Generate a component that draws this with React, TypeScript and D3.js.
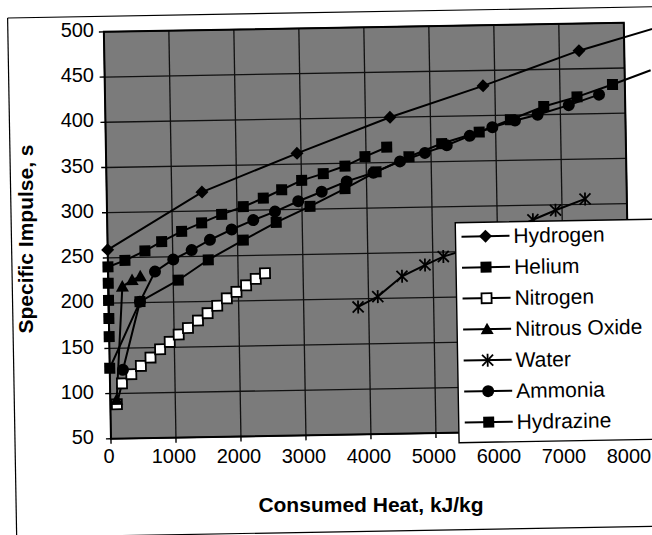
import React from "react";
import * as d3 from "d3";

type Pt = [number, number];

const xTicks = [0, 1000, 2000, 3000, 4000, 5000, 6000, 7000, 8000];
const yTicks = [50, 100, 150, 200, 250, 300, 350, 400, 450, 500];

const hydrogen: Pt[] = [[0, 259], [1466, 321], [2938, 362], [4378, 400], [5818, 433], [7304, 470], [8750, 499]];
const helium: Pt[] = [[0, 163], [0, 183], [0, 203], [0, 222], [0, 240], [263, 247], [573, 257], [833, 267], [1143, 278], [1453, 287], [1763, 296], [2098, 304], [2408, 313], [2693, 322], [3003, 332], [3337, 339], [3673, 347], [3983, 357], [4320, 367]];
const nitrogen: Pt[] = [[100, 88], [184, 111], [330, 121], [480, 130], [630, 139], [780, 148], [930, 156], [1070, 164], [1214, 171], [1370, 179], [1520, 187], [1670, 195], [1820, 203], [1970, 210], [2120, 217], [2270, 224], [2414, 230]];
const nitrousOxide: Pt[] = [[98, 93], [216, 218], [368, 225], [495, 229]];
const water: Pt[] = [[3837, 191], [4142, 202], [4521, 224], [4877, 236], [5161, 245], [5500, 252], [5850, 262], [6200, 273], [6550, 284], [6900, 294], [7357, 306]];
const ammonia: Pt[] = [[203, 126], [483, 201], [722, 234], [1006, 247], [1292, 257], [1576, 268], [1913, 279], [2248, 289], [2584, 298], [2945, 309], [3308, 319], [3695, 330], [4107, 339], [4521, 351], [4907, 360], [5244, 368], [5600, 378], [5950, 387], [6300, 394], [6649, 400], [7132, 410], [7600, 421]];
const hydrazine: Pt[] = [[0, 128], [483, 201], [1078, 224], [1545, 246], [2089, 267], [2600, 286], [3124, 303], [3667, 322], [4150, 340], [4660, 356], [5167, 370], [5747, 382], [6230, 395], [6747, 409], [7261, 419], [7810, 432], [8400, 447]];

const seriesNames = ["Hydrogen", "Helium", "Nitrogen", "Nitrous Oxide", "Water", "Ammonia", "Hydrazine"];
const seriesData = [hydrogen, helium, nitrogen, nitrousOxide, water, ammonia, hydrazine];
const markerKinds = ["diamond", "square", "openSquare", "triangle", "asterisk", "circle", "square"];

const FONT = "'Liberation Sans', Arial, Helvetica, sans-serif";

function Marker({ kind, cx, cy }: { kind: string; cx: number; cy: number }) {
  const t = `translate(${cx},${cy})`;
  if (kind === "diamond") {
    return <path transform={t} d="M0,-6.5L6.5,0L0,6.5L-6.5,0Z" fill="#000" />;
  }
  if (kind === "square") {
    return <rect x={cx - 5.5} y={cy - 5.5} width={11} height={11} fill="#000" />;
  }
  if (kind === "openSquare") {
    return <rect x={cx - 5} y={cy - 5} width={10} height={10} fill="#fff" stroke="#000" strokeWidth={1.8} />;
  }
  if (kind === "triangle") {
    return <path transform={t} d="M0,-6.5L6.5,5L-6.5,5Z" fill="#000" />;
  }
  if (kind === "circle") {
    return <circle cx={cx} cy={cy} r={6} fill="#000" />;
  }
  return (
    <g transform={t} stroke="#000" strokeWidth={1.8}>
      <line x1={-5.5} y1={-5.5} x2={5.5} y2={5.5} />
      <line x1={-5.5} y1={5.5} x2={5.5} y2={-5.5} />
      <line x1={0} y1={-6.5} x2={0} y2={6.5} />
    </g>
  );
}

export default function App() {
  const plot = { left: 108, right: 628, top: 28, bottom: 435 };
  const x = d3.scaleLinear().domain([0, 8000]).range([plot.left, plot.right]);
  const y = d3.scaleLinear().domain([50, 500]).range([plot.bottom, plot.top]);
  const line = d3.line<Pt>().x((d) => x(d[0])).y((d) => y(d[1]));

  const legendX = 456;
  const legendY = 225;

  return (
    <svg
      width={652}
      height={535}
      style={{ position: "absolute", left: 0, top: 0, display: "block", background: "#fff" }}
      fontFamily={FONT}
    >
      <g transform="rotate(-1 326 267)">
        <line x1={12} y1={12.5} x2={720} y2={12.5} stroke="#000" strokeWidth={1.2} />
        <line x1={12} y1={12.5} x2={12} y2={600} stroke="#000" strokeWidth={1.2} />
        <line x1={98} y1={532} x2={720} y2={532} stroke="#000" strokeWidth={1.2} />

        <rect x={plot.left} y={plot.top} width={plot.right - plot.left} height={plot.bottom - plot.top} fill="#7b7b7b" />

        {yTicks.map((t) => (
          <line key={"gy" + t} x1={plot.left} x2={plot.right} y1={y(t)} y2={y(t)} stroke="#111" strokeWidth={1.3} />
        ))}
        {xTicks.map((t) => (
          <line key={"gx" + t} x1={x(t)} x2={x(t)} y1={plot.top} y2={plot.bottom} stroke="#111" strokeWidth={1.3} />
        ))}
        <rect x={plot.left} y={plot.top} width={plot.right - plot.left} height={plot.bottom - plot.top} fill="none" stroke="#000" strokeWidth={2} />

        {yTicks.map((t) => (
          <line key={"ty" + t} x1={plot.left - 5} x2={plot.left} y1={y(t)} y2={y(t)} stroke="#000" strokeWidth={1.4} />
        ))}
        {xTicks.map((t) => (
          <line key={"tx" + t} x1={x(t)} x2={x(t)} y1={plot.bottom} y2={plot.bottom + 5} stroke="#000" strokeWidth={1.4} />
        ))}

        {seriesData.map((s, i) => (
          <path key={"l" + i} d={line(s)!} fill="none" stroke="#000" strokeWidth={2} />
        ))}
        {seriesData.map((s, i) =>
          s
            .filter((d) => d[0] <= 8000)
            .map((d, j) => <Marker key={`m${i}-${j}`} kind={markerKinds[i]} cx={x(d[0])} cy={y(d[1])} />)
        )}

        <rect x={legendX} y={legendY} width={240} height={220} fill="#fff" stroke="#000" strokeWidth={1.4} />
        {seriesNames.map((name, i) => {
          const cy = legendY + 14 + i * 31;
          return (
            <g key={"lg" + i}>
              <line x1={legendX + 6} x2={legendX + 54} y1={cy} y2={cy} stroke="#000" strokeWidth={2} />
              <Marker kind={markerKinds[i]} cx={legendX + 30} cy={cy} />
              <text x={legendX + 58} y={cy} dy="0.35em" fontSize={21} fill="#000">
                {name}
              </text>
            </g>
          );
        })}
      </g>

      {yTicks.map((t) => (
        <text key={"yl" + t} x={94} y={y(t) + 2} dy="0.35em" textAnchor="end" fontSize={20} fill="#000">
          {t}
        </text>
      ))}
      {xTicks.map((t) => (
        <text key={"xl" + t} x={x(t) + 1} y={463} textAnchor="middle" fontSize={20} fill="#000">
          {t}
        </text>
      ))}

      <text x={371} y={512} textAnchor="middle" fontSize={21} fontWeight="bold" fill="#000">
        Consumed Heat, kJ/kg
      </text>
      <text transform="translate(33,239) rotate(-90)" textAnchor="middle" fontSize={21} fontWeight="bold" fill="#000">
        Specific Impulse, s
      </text>
    </svg>
  );
}
